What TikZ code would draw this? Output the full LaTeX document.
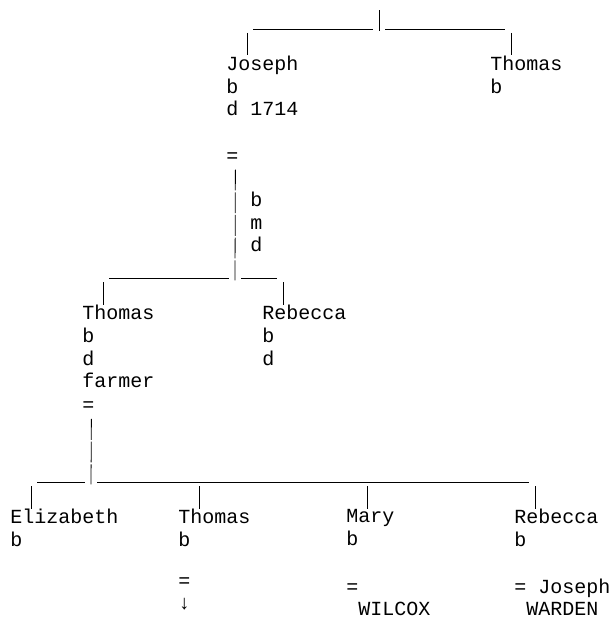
\documentclass[tikz,border=0pt]{standalone}
\usepackage{fontspec}
\setmonofont{Liberation Mono}
\tikzset{
  lbl/.style={font=\ttfamily\fontsize{15}{17}\selectfont,inner sep=0pt,anchor=north west,
    align=left,yshift=11.9pt,execute at begin node=\strut},
  pipe/.style={dash pattern=on 15.64pt off 1.36pt}
}
\begin{document}
\begin{tikzpicture}[x=9pt,y=-17pt,line width=0.6pt]
\useasboundingbox (-7.5pt,19.5pt) rectangle (454.5pt,-444.75pt);
\node[lbl] (joseph) at (18,2) {Joseph\\b\\d 1714};
\node[lbl] (thomas) at (40,2) {Thomas\\b};
\node[lbl] (eqa) at (18,6) {=};
\node[lbl] (bmd) at (20,8) {b\\m\\d};
\node[lbl] (thomasb) at (6,13) {Thomas\\b\\d\\farmer};
\node[lbl] (rebecca) at (21,13) {Rebecca\\b\\d};
\node[lbl] (eqb) at (6,17) {=};
\node[lbl] (eliz) at (0,22) {Elizabeth\\b};
\node[lbl] (thomasc) at (14,22) {Thomas\\b};
\node[lbl] (mary) at (28,22) {Mary\\b};
\node[lbl] (rebeccab) at (42,22) {Rebecca\\b};
\node[lbl] (eqc) at (14,25) {=\\↓};
\node[lbl] (eqd) at (28,25) {=};
\node[lbl] (wilcox) at (29,26) {WILCOX};
\node[lbl] (eqe) at (42,25) {= Joseph};
\node[lbl] (warden) at (43,26) {WARDEN};
% Joseph and Thomas
\coordinate (t0) at (30.75,-0.7);
\coordinate (t1) at (30.75,0.22);
\coordinate (tl) at (20.25,0.13);
\coordinate (tm) at (30.25,0.13);
\coordinate (tn) at (31.25,0.13);
\coordinate (tr) at (41.25,0.13);
\coordinate (tj) at (19.75,0.3);
\coordinate (tt) at (41.75,0.3);
\draw (t0) -- (t1);
\draw (tl) -- (tm) (tn) -- (tr);
\draw (tj) -- (tj |- joseph.north);
\draw (tt) -- (tt |- thomas.north);
% Thomas and Rebecca
\coordinate (m0) at (18.75,11.22);
\coordinate (ml) at (8.25,11.13);
\coordinate (mm) at (18.25,11.13);
\coordinate (mn) at (19.25,11.13);
\coordinate (mr) at (22.25,11.13);
\coordinate (mt) at (7.75,11.3);
\coordinate (mb) at (22.75,11.3);
\draw[pipe] ([xshift=2.25pt]eqa.south) -- (m0);
\draw (ml) -- (mm) (mn) -- (mr);
\draw (mt) -- (mt |- thomasb.north);
\draw (mb) -- (mb |- rebecca.north);
% children
\coordinate (b0) at (6.75,20.22);
\coordinate (bl) at (2.25,20.13);
\coordinate (bk) at (6.25,20.13);
\coordinate (bn) at (7.25,20.13);
\coordinate (br) at (43.25,20.13);
\coordinate (be) at (1.75,20.3);
\coordinate (bt) at (15.75,20.3);
\coordinate (bm) at (29.75,20.3);
\coordinate (bb) at (43.75,20.3);
\draw[pipe] ([xshift=2.25pt]eqb.south) -- (b0);
\draw (bl) -- (bk) (bn) -- (br);
\draw (be) -- (be |- eliz.north);
\draw (bt) -- (bt |- thomasc.north);
\draw (bm) -- (bm |- mary.north);
\draw (bb) -- (bb |- rebeccab.north);
\end{tikzpicture}
\end{document}
